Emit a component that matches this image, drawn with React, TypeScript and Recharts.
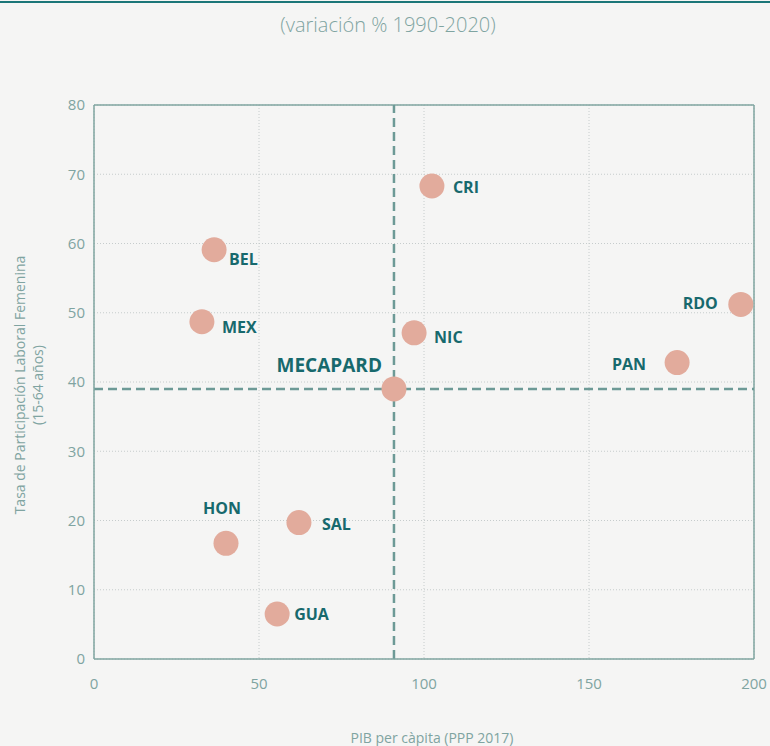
import React from 'react';
import {
  ScatterChart,
  Scatter,
  XAxis,
  YAxis,
  CartesianGrid,
  ReferenceLine,
} from 'recharts';

const countries = ['CRI', 'BEL', 'MEX', 'NIC', 'RDO', 'PAN', 'MECAPARD', 'HON', 'SAL', 'GUA'];
const pibVariation = [102.4, 36.4, 32.7, 97, 196, 176.7, 90.9, 40, 62.1, 55.5];
const femaleParticipation = [68.3, 59.1, 48.7, 47.1, 51.2, 42.8, 39, 16.7, 19.7, 6.5];
const xTicks = [0, 50, 100, 150, 200];
const yTicks = [0, 10, 20, 30, 40, 50, 60, 70, 80];

const title = '(variación % 1990-2020)';
const xTitle = 'PIB per càpita (PPP 2017)';
const yTitle1 = 'Tasa de Participación Laboral Femenina';
const yTitle2 = '(15-64 años)';

const data = countries.map((name, i) => ({ name, x: pibVariation[i], y: femaleParticipation[i] }));
const avg = data.find((d) => d.name === 'MECAPARD')!;

// label placement (style only)
const labelPlacement: Record<string, { dx: number; dy: number; anchor: string; size: number }> = {
  CRI: { dx: 21, dy: 1, anchor: 'start', size: 16 },
  BEL: { dx: 15, dy: 9, anchor: 'start', size: 16 },
  MEX: { dx: 20, dy: 5, anchor: 'start', size: 16 },
  NIC: { dx: 20, dy: 4, anchor: 'start', size: 16 },
  RDO: { dx: -23, dy: -1, anchor: 'end', size: 16 },
  PAN: { dx: -31, dy: 1, anchor: 'end', size: 16 },
  MECAPARD: { dx: -12, dy: -24, anchor: 'end', size: 19 },
  HON: { dx: -4, dy: -35, anchor: 'middle', size: 16 },
  SAL: { dx: 23, dy: 1, anchor: 'start', size: 16 },
  GUA: { dx: 17, dy: 0, anchor: 'start', size: 16 },
};

const FONT = '"Open Sans", "DejaVu Sans", sans-serif';
const AXIS = '#7fa4a1';
const TEXT = '#7fa4a1';
const DOT = '#e2ab9c';
const LABEL = '#17696d';
const DASH = '#6d9a96';

const PointShape = (props: any) => {
  const { cx, cy, payload } = props;
  const p = labelPlacement[payload.name];
  return (
    <g>
      <circle cx={cx} cy={cy} r={12.5} fill={DOT} />
      <text
        x={cx + p.dx}
        y={cy + p.dy}
        textAnchor={p.anchor}
        dominantBaseline="central"
        fontFamily={FONT}
        fontWeight={700}
        fontSize={p.size}
        fill={LABEL}
      >
        {payload.name}
      </text>
    </g>
  );
};

export default function App() {
  return (
    <div
      style={{
        position: 'absolute',
        left: 0,
        top: 0,
        width: 770,
        height: 746,
        background: '#f5f5f4',
        fontFamily: FONT,
        overflow: 'hidden',
      }}
    >
      <div style={{ position: 'absolute', left: 0, top: 1, width: 770, height: 2, background: '#1b7678' }} />
      <div
        style={{
          position: 'absolute',
          left: 0,
          top: 11,
          width: 776,
          textAlign: 'center',
          fontSize: 20,
          fontWeight: 300,
          color: TEXT,
        }}
      >
        {title}
      </div>
      <div
        style={{
          position: 'absolute',
          left: 94,
          top: 729,
          width: 676,
          textAlign: 'center',
          fontSize: 14,
          color: TEXT,
          lineHeight: '18px',
        }}
      >
        {xTitle}
      </div>
      <div
        style={{
          position: 'absolute',
          left: 29 - 200,
          top: 385 - 18,
          width: 400,
          height: 36,
          transform: 'rotate(-90deg)',
          transformOrigin: '200px 18px',
          textAlign: 'center',
          fontSize: 14,
          color: TEXT,
          lineHeight: '18px',
        }}
      >
        <div>{yTitle1}</div>
        <div>{yTitle2}</div>
      </div>
      <div style={{ position: 'absolute', left: 0, top: 0 }}>
        <ScatterChart width={770} height={746} margin={{ top: 105, right: 16, bottom: 0, left: 0 }}>
          <CartesianGrid stroke="#c6cccc" strokeDasharray="1 2" />
          <XAxis
            type="number"
            dataKey="x"
            domain={[0, 200]}
            ticks={xTicks}
            height={87}
            axisLine={{ stroke: AXIS, strokeWidth: 1.5 }}
            tickLine={false}
            tickSize={0}
            tickMargin={19}
            tick={{ fill: TEXT, fontSize: 15, fontFamily: FONT }}
          />
          <YAxis
            type="number"
            dataKey="y"
            domain={[0, 80]}
            ticks={yTicks}
            width={94}
            axisLine={{ stroke: AXIS, strokeWidth: 1.5 }}
            tickLine={false}
            tickSize={0}
            tickMargin={9}
            tick={{ fill: TEXT, fontSize: 15, fontFamily: FONT }}
          />
          <ReferenceLine y={80} stroke={AXIS} strokeWidth={1.5} />
          <ReferenceLine x={200} stroke={AXIS} strokeWidth={1.5} />
          <ReferenceLine x={avg.x} stroke={DASH} strokeWidth={2.5} strokeDasharray="9 5" />
          <ReferenceLine y={avg.y} stroke={DASH} strokeWidth={2.5} strokeDasharray="9 5" />
          <Scatter data={data} shape={PointShape} isAnimationActive={false} />
        </ScatterChart>
      </div>
    </div>
  );
}
